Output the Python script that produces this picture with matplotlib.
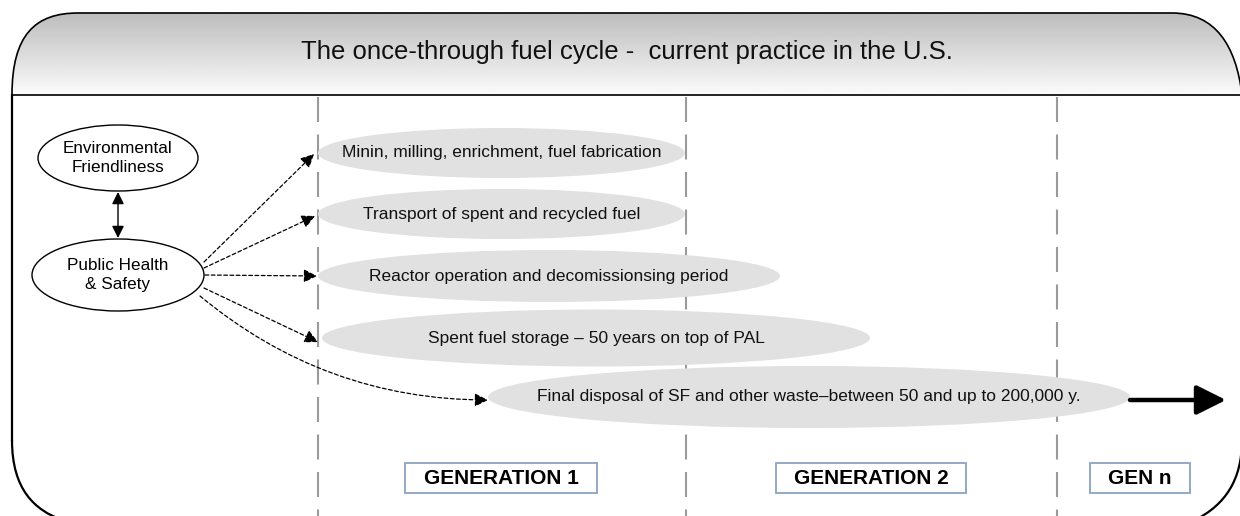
import matplotlib
matplotlib.use("Agg")
import matplotlib.pyplot as plt
import numpy as np
from matplotlib.patches import Ellipse, PathPatch
from matplotlib.path import Path

plt.rcParams['font.family'] = ['Liberation Sans', 'DejaVu Sans']

# ---- content ----
title = "The once-through fuel cycle -  current practice in the U.S."
left_nodes = ["Environmental\nFriendliness", "Public Health\n& Safety"]
stages = [
    "Minin, milling, enrichment, fuel fabrication",
    "Transport of spent and recycled fuel",
    "Reactor operation and decomissionsing period",
    "Spent fuel storage \u2013 50 years on top of PAL",
    "Final disposal of SF and other waste\u2013between 50 and up to 200,000 y.",
]
generations = ["GENERATION 1", "GENERATION 2", "GEN n"]

# ---- layout (pixel coordinates) ----
stage_x0 = [318, 318, 318, 322, 488]
stage_x1 = [685, 685, 780, 870, 1130]
stage_y = [153, 214, 276, 338, 397]
stage_h = [50, 50, 52, 57, 62]
node_xy = [(118, 158), (118, 275)]
node_wh = [(160, 66), (172, 72)]
divider_x = [318, 686, 1057]
gen_box = [(405, 597), (776, 966), (1090, 1190)]

W, H = 1240, 516
fig = plt.figure(figsize=(W / 100, H / 100), dpi=100)
ax = fig.add_axes([0, 0, 1, 1])

# header with gradient
hv = [(12, 95), (12, 35), (35, 13), (78, 13), (1172, 13),
      (1215, 13), (1236, 45), (1242, 95), (12, 95)]
hc = [Path.MOVETO, Path.CURVE4, Path.CURVE4, Path.CURVE4, Path.LINETO,
      Path.CURVE4, Path.CURVE4, Path.CURVE4, Path.CLOSEPOLY]
hpath = Path(hv, hc)
grad = np.linspace(0.74, 0.985, 100).reshape(-1, 1)
im = ax.imshow(grad, extent=[0, W, 95, 13], cmap='gray', vmin=0, vmax=1,
               aspect='auto', zorder=1)
hp = PathPatch(hpath, facecolor='none', edgecolor='black', lw=1.2, zorder=2)
ax.add_patch(hp)
im.set_clip_path(hp)
ax.set_xlim(0, W)
ax.set_ylim(H, 0)
ax.axis('off')

# body frame
ax.plot([12, 12], [95, 440], color='black', lw=1.6, zorder=2)
bl = Path([(12, 440), (12, 490), (35, 510), (62, 520)],
          [Path.MOVETO, Path.CURVE4, Path.CURVE4, Path.CURVE4])
ax.add_patch(PathPatch(bl, facecolor='none', edgecolor='black', lw=1.6, zorder=2))
br = Path([(1242, 440), (1242, 480), (1225, 505), (1195, 520)],
          [Path.MOVETO, Path.CURVE4, Path.CURVE4, Path.CURVE4])
ax.add_patch(PathPatch(br, facecolor='none', edgecolor='black', lw=1.6, zorder=2))

ax.text(627, 52, title, ha='center', va='center', fontsize=18.5, color='#111111', zorder=3)

# dividers
for x in divider_x:
    ax.plot([x, x], [97, 516], color='#9a9a9a', lw=1.5, dashes=(12, 6), zorder=2)

# stage ellipses
for lab, x0, x1, y, h in zip(stages, stage_x0, stage_x1, stage_y, stage_h):
    ax.add_patch(Ellipse(((x0 + x1) / 2, y), x1 - x0, h, facecolor='#e1e1e1',
                         edgecolor='none', zorder=3))
    ax.text((x0 + x1) / 2, y, lab, ha='center', va='center', fontsize=12.5,
            color='#111111', zorder=4)

# left nodes
for lab, (cx, cy), (w, h) in zip(left_nodes, node_xy, node_wh):
    ax.add_patch(Ellipse((cx, cy), w, h, facecolor='white', edgecolor='black',
                         lw=1.0, zorder=3))
    ax.text(cx, cy, lab, ha='center', va='center', fontsize=12.3,
            linespacing=1.4, zorder=4)

ax.annotate('', xy=(118, 238), xytext=(118, 192),
            arrowprops=dict(arrowstyle='<|-|>', lw=1.0, color='black',
                            mutation_scale=18, shrinkA=0, shrinkB=0), zorder=4)

# dashed arrows
starts = [(204, 262), (204, 268), (205, 275), (204, 288), (200, 296)]
ends = [(314, 154), (315, 216), (317, 276), (318, 342), (488, 400)]
rads = [0, 0, 0, 0, 0.18]
for (sx, sy), (ex, ey), r in zip(starts, ends, rads):
    ax.annotate('', xy=(ex, ey), xytext=(sx, sy),
                arrowprops=dict(arrowstyle='-|>', lw=0.9, color='black',
                                linestyle=(0, (3, 2)), mutation_scale=20,
                                shrinkA=0, shrinkB=0,
                                connectionstyle=f'arc3,rad={r}'), zorder=4)

# thick arrow
ax.annotate('', xy=(1226, 400), xytext=(1130, 400),
            arrowprops=dict(arrowstyle='-|>,head_length=0.9,head_width=0.45',
                            lw=3.2, color='black',
                            mutation_scale=20, shrinkA=0, shrinkB=0), zorder=4)

# generation boxes
for lab, (x0, x1) in zip(generations, gen_box):
    ax.add_patch(plt.Rectangle((x0, 463), x1 - x0, 30, facecolor='white',
                               edgecolor='#8aa4c4', lw=1.3, zorder=4))
    ax.text((x0 + x1) / 2, 478, lab, ha='center', va='center', fontsize=15,
            fontweight='bold', zorder=5)

fig.savefig('out.png', dpi=100)
